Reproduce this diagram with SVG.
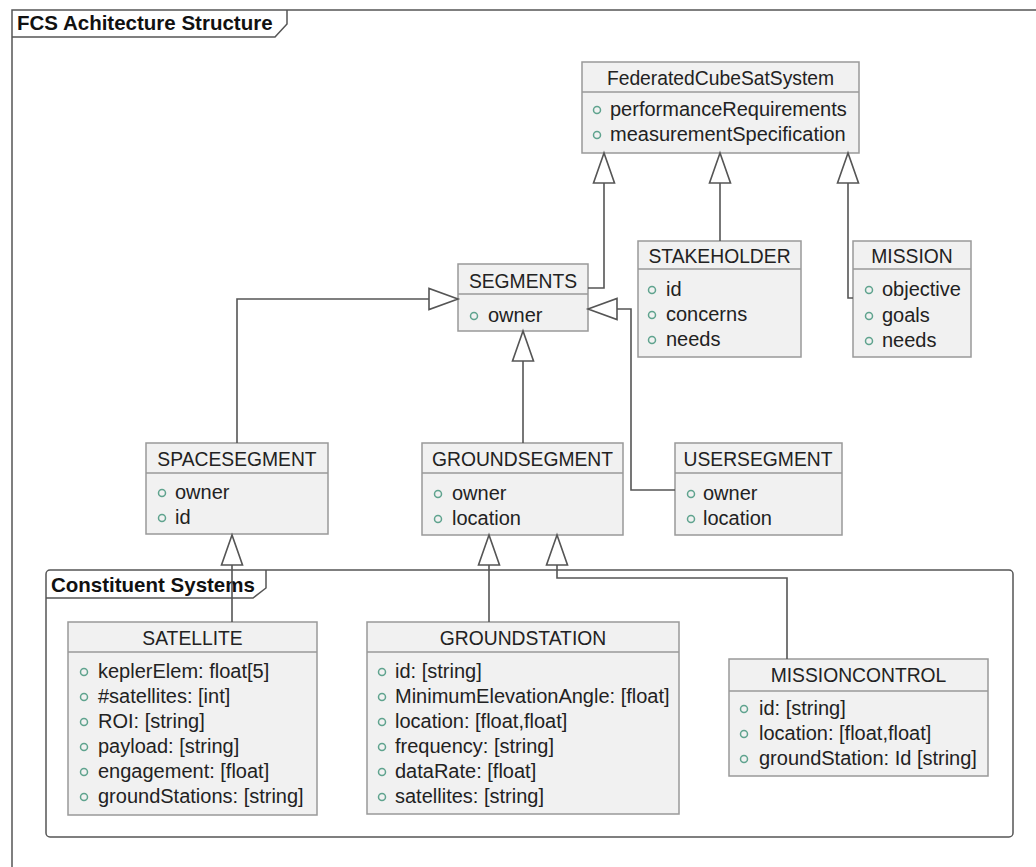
<svg xmlns="http://www.w3.org/2000/svg" width="1036" height="867" viewBox="0 0 1036 867">
<defs>
<style>
.frame{fill:none;stroke:#555;stroke-width:1.5}
.box{fill:#f1f1f1;stroke:#999;stroke-width:1.5}
.sep{stroke:#999;stroke-width:1.5}
.t{font-family:"Liberation Sans",Arial,sans-serif;font-size:19.3px;fill:#222;text-anchor:middle}
.a{font-family:"Liberation Sans",Arial,sans-serif;font-size:20px;fill:#222}
.ft{font-family:"Liberation Sans",Arial,sans-serif;font-size:20.5px;font-weight:bold;fill:#111}
.dot{fill:none;stroke:#5fa38e;stroke-width:1.5}
.ln{fill:none;stroke:#555;stroke-width:1.6}
.ah{fill:#fff;stroke:#555;stroke-width:1.6;stroke-linejoin:miter}
</style>
</defs>
<rect width="1036" height="867" fill="#fff"/>
<g id="frame-main">
<path class="frame" d="M12,867 L12,10 L1036,10"/>
<path class="frame" d="M12,37 L275,37 L287,24 L287,10"/>
<text class="ft" x="17" y="30">FCS Achitecture Structure</text>
</g>
<g id="frame-constituent">
<rect class="frame" x="46" y="570" width="967" height="267" rx="4"/>
<path class="frame" d="M46,598 L253,598 L266,588 L266,570"/>
<text class="ft" x="51" y="592">Constituent Systems</text>
</g>
<g id="FederatedCubeSatSystem">
<rect class="box" x="582" y="62" width="277" height="91"/>
<line class="sep" x1="582" y1="92" x2="859" y2="92"/>
<text class="t" x="720.5" y="85">FederatedCubeSatSystem</text>
<circle class="dot" cx="597" cy="110" r="3.5"/><text class="a" x="610" y="116">performanceRequirements</text>
<circle class="dot" cx="597" cy="135" r="3.5"/><text class="a" x="610" y="141">measurementSpecification</text>
</g>
<g id="SEGMENTS">
<rect class="box" x="458" y="264" width="130" height="67"/>
<line class="sep" x1="458" y1="294" x2="588" y2="294"/>
<text class="t" x="523" y="288">SEGMENTS</text>
<circle class="dot" cx="474" cy="316" r="3.5"/><text class="a" x="488" y="322">owner</text>
</g>
<g id="STAKEHOLDER">
<rect class="box" x="638" y="241" width="163" height="116"/>
<line class="sep" x1="638" y1="269" x2="801" y2="269"/>
<text class="t" x="719.5" y="263">STAKEHOLDER</text>
<circle class="dot" cx="652" cy="290" r="3.5"/><text class="a" x="666" y="296">id</text>
<circle class="dot" cx="652" cy="315" r="3.5"/><text class="a" x="666" y="321">concerns</text>
<circle class="dot" cx="652" cy="340" r="3.5"/><text class="a" x="666" y="346">needs</text>
</g>
<g id="MISSION">
<rect class="box" x="853" y="241" width="118" height="116"/>
<line class="sep" x1="853" y1="269" x2="971" y2="269"/>
<text class="t" x="912" y="263">MISSION</text>
<circle class="dot" cx="869" cy="290" r="3.5"/><text class="a" x="882" y="296">objective</text>
<circle class="dot" cx="869" cy="316" r="3.5"/><text class="a" x="882" y="322">goals</text>
<circle class="dot" cx="869" cy="341" r="3.5"/><text class="a" x="882" y="347">needs</text>
</g>
<g id="SPACESEGMENT">
<rect class="box" x="146" y="443" width="182" height="91"/>
<line class="sep" x1="146" y1="473" x2="328" y2="473"/>
<text class="t" x="237" y="466">SPACESEGMENT</text>
<circle class="dot" cx="162" cy="493" r="3.5"/><text class="a" x="175" y="499">owner</text>
<circle class="dot" cx="162" cy="518" r="3.5"/><text class="a" x="175" y="524">id</text>
</g>
<g id="GROUNDSEGMENT">
<rect class="box" x="422" y="443" width="201" height="92"/>
<line class="sep" x1="422" y1="473" x2="623" y2="473"/>
<text class="t" x="522.5" y="466">GROUNDSEGMENT</text>
<circle class="dot" cx="438" cy="494" r="3.5"/><text class="a" x="452" y="500">owner</text>
<circle class="dot" cx="438" cy="519" r="3.5"/><text class="a" x="452" y="525">location</text>
</g>
<g id="USERSEGMENT">
<rect class="box" x="675" y="443" width="167" height="92"/>
<line class="sep" x1="675" y1="473" x2="842" y2="473"/>
<text class="t" x="758" y="466">USERSEGMENT</text>
<circle class="dot" cx="691" cy="494" r="3.5"/><text class="a" x="703" y="500">owner</text>
<circle class="dot" cx="691" cy="519" r="3.5"/><text class="a" x="703" y="525">location</text>
</g>
<g id="SATELLITE">
<rect class="box" x="68" y="622" width="249" height="193"/>
<line class="sep" x1="68" y1="652" x2="317" y2="652"/>
<text class="t" x="192.5" y="645">SATELLITE</text>
<circle class="dot" cx="84" cy="672" r="3.5"/><text class="a" x="98" y="678">keplerElem: float[5]</text>
<circle class="dot" cx="84" cy="697" r="3.5"/><text class="a" x="98" y="703">#satellites: [int]</text>
<circle class="dot" cx="84" cy="722" r="3.5"/><text class="a" x="98" y="728">ROI: [string]</text>
<circle class="dot" cx="84" cy="747" r="3.5"/><text class="a" x="98" y="753">payload: [string]</text>
<circle class="dot" cx="84" cy="772" r="3.5"/><text class="a" x="98" y="778">engagement: [float]</text>
<circle class="dot" cx="84" cy="797" r="3.5"/><text class="a" x="98" y="803">groundStations: [string]</text>
</g>
<g id="GROUNDSTATION">
<rect class="box" x="367" y="622" width="312" height="192"/>
<line class="sep" x1="367" y1="652" x2="679" y2="652"/>
<text class="t" x="523" y="645">GROUNDSTATION</text>
<circle class="dot" cx="382" cy="672" r="3.5"/><text class="a" x="395" y="678">id: [string]</text>
<circle class="dot" cx="382" cy="697" r="3.5"/><text class="a" x="395" y="703">MinimumElevationAngle: [float]</text>
<circle class="dot" cx="382" cy="722" r="3.5"/><text class="a" x="395" y="728">location: [float,float]</text>
<circle class="dot" cx="382" cy="747" r="3.5"/><text class="a" x="395" y="753">frequency: [string]</text>
<circle class="dot" cx="382" cy="772" r="3.5"/><text class="a" x="395" y="778">dataRate: [float]</text>
<circle class="dot" cx="382" cy="797" r="3.5"/><text class="a" x="395" y="803">satellites: [string]</text>
</g>
<g id="MISSIONCONTROL">
<rect class="box" x="729" y="659" width="259" height="117"/>
<line class="sep" x1="729" y1="691" x2="988" y2="691"/>
<text class="t" x="858.5" y="682">MISSIONCONTROL</text>
<circle class="dot" cx="744" cy="709" r="3.5"/><text class="a" x="759" y="715">id: [string]</text>
<circle class="dot" cx="744" cy="734" r="3.5"/><text class="a" x="759" y="740">location: [float,float]</text>
<circle class="dot" cx="744" cy="759" r="3.5"/><text class="a" x="759" y="765">groundStation: Id [string]</text>
</g>
<g id="connectors">
<path class="ln" d="M588,288 L604,288 L604,183"/>
<polygon class="ah" points="604,153 593.5,183 614.5,183"/>
<path class="ln" d="M720,241 L720,183"/>
<polygon class="ah" points="720,153 709.5,183 730.5,183"/>
<path class="ln" d="M853,298 L848,298 L848,183"/>
<polygon class="ah" points="848,153 837.5,183 858.5,183"/>
<path class="ln" d="M237,443 L237,299 L429,299"/>
<polygon class="ah" points="458,299 429,288.5 429,309.5"/>
<path class="ln" d="M523,443 L523,361"/>
<polygon class="ah" points="523,331 512.5,361 533.5,361"/>
<path class="ln" d="M675,490 L631,490 L631,309 L617,309"/>
<polygon class="ah" points="588,309 617,298.5 617,319.5"/>
<path class="ln" d="M232,622 L232,565"/>
<polygon class="ah" points="232,535 221.5,565 242.5,565"/>
<path class="ln" d="M489,622 L489,565"/>
<polygon class="ah" points="489,535 478.5,565 499.5,565"/>
<path class="ln" d="M787,659 L787,578 L557,578 L557,565"/>
<polygon class="ah" points="557,535 546.5,565 567.5,565"/>
</g>
</svg>
